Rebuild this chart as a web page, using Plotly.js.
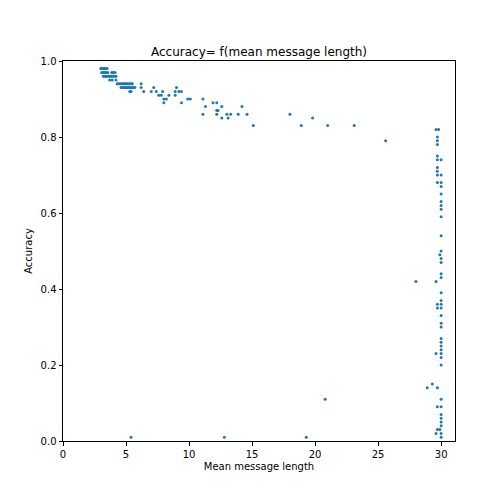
<!DOCTYPE html>
<html>
<head>
<meta charset="utf-8">
<script src="https://cdn.plot.ly/plotly-3.0.1.min.js"></script>
<style>body{margin:0;background:#fff}#chart{width:504px;height:504px}</style>
</head>
<body>
<div id="chart"></div>
<script>
// mean message length / accuracy pairs
const meanLength = [
    3.0, 3.1, 3.2, 3.3, 3.4, 3.5,
    3.07, 3.2, 3.3, 3.4, 3.55, 3.87, 4.0, 4.13,
    3.2, 3.3, 3.4, 3.5, 3.6, 3.7, 3.8, 3.9, 4.0, 4.1, 4.2,
    3.7, 3.9, 4.2,
    4.3, 4.4, 4.5, 4.6, 4.7, 4.8, 4.9, 5.0, 5.1, 5.2, 5.3, 5.4, 5.5, 6.2,
    4.6, 4.7, 4.8, 4.9, 5.0, 5.1, 5.2, 5.3, 5.4, 5.5, 5.6, 5.7, 6.2, 7.2, 9.0,
    5.3, 5.4, 6.4, 7.0, 7.4, 7.9, 8.9, 9.2, 9.4,
    7.6, 7.8, 8.4, 8.9,
    8.0, 8.2, 9.9, 10.1, 11.1,
    8.0, 9.4, 11.9, 12.2,
    11.3, 12.6, 14.2,
    12.2, 12.3,
    11.1, 12.2, 13.0, 13.3, 13.9, 14.6,
    12.6, 13.1,
    15.1,
    18.0, 18.9, 19.8, 21.0, 23.1, 25.6, 28.0, 20.8, 5.4, 12.8, 19.3,
    29.6, 29.8, 29.7, 29.7, 29.7, 29.7, 29.7, 30.0, 29.7, 29.7, 29.7, 30.0,
    29.7, 30.0, 30.0, 30.0, 30.0, 30.0, 30.0, 30.0, 30.0, 30.0, 29.9, 30.0, 30.0,
    30.0, 30.0, 29.6, 30.0, 30.0, 29.7, 30.0, 29.7, 30.0, 30.0, 30.0, 30.0,
    30.0, 30.0, 30.0, 30.0, 29.6, 30.0, 30.0, 30.0, 29.3, 28.9, 29.7, 30.0,
    29.7, 30.0, 30.0, 30.0, 30.0, 30.0, 29.7, 29.9, 29.6, 30.0, 30.0,
];
const accuracy = [
    0.98, 0.98, 0.98, 0.98, 0.98, 0.98,
    0.97, 0.97, 0.97, 0.97, 0.97, 0.97, 0.97, 0.97,
    0.96, 0.96, 0.96, 0.96, 0.96, 0.96, 0.96, 0.96, 0.96, 0.96, 0.96,
    0.95, 0.95, 0.95,
    0.94, 0.94, 0.94, 0.94, 0.94, 0.94, 0.94, 0.94, 0.94, 0.94, 0.94, 0.94, 0.94, 0.94,
    0.93, 0.93, 0.93, 0.93, 0.93, 0.93, 0.93, 0.93, 0.93, 0.93, 0.93, 0.93, 0.93, 0.93, 0.93,
    0.92, 0.92, 0.92, 0.92, 0.92, 0.92, 0.92, 0.92, 0.92,
    0.91, 0.91, 0.91, 0.91,
    0.90, 0.90, 0.90, 0.90, 0.90,
    0.89, 0.89, 0.89, 0.89,
    0.88, 0.88, 0.88,
    0.87, 0.87,
    0.86, 0.86, 0.86, 0.86, 0.86, 0.86,
    0.85, 0.85,
    0.83,
    0.86, 0.83, 0.85, 0.83, 0.83, 0.79, 0.42, 0.11, 0.01, 0.01, 0.01,
    0.82, 0.82, 0.80, 0.79, 0.78, 0.75, 0.74, 0.74, 0.72, 0.71, 0.70, 0.70,
    0.68, 0.68, 0.67, 0.65, 0.63, 0.62, 0.61, 0.59, 0.54, 0.50, 0.49, 0.48, 0.47,
    0.44, 0.43, 0.42, 0.39, 0.37, 0.36, 0.36, 0.35, 0.35, 0.33, 0.31, 0.30,
    0.27, 0.26, 0.25, 0.24, 0.23, 0.23, 0.22, 0.20, 0.15, 0.14, 0.14, 0.11,
    0.09, 0.09, 0.07, 0.06, 0.05, 0.04, 0.03, 0.03, 0.02, 0.02, 0.01,
];
const xTicks = [0, 5, 10, 15, 20, 25, 30];
const yTicks = [0, 0.2, 0.4, 0.6, 0.8, 1.0];

const font = { family: 'DejaVu Sans', color: '#000', size: 10 };
const axisBase = {
    showgrid: false,
    zeroline: false,
    showline: true,
    mirror: true,
    linecolor: '#000',
    linewidth: 1,
    ticks: 'outside',
    ticklen: 3.5,
    tickcolor: '#000',
    tickfont: font,
};

const trace = {
    x: meanLength,
    y: accuracy,
    mode: 'markers',
    type: 'scatter',
    marker: { color: '#1f77b4', size: 3 },
    hoverinfo: 'none',
};

const layout = {
    width: 504,
    height: 504,
    showlegend: false,
    paper_bgcolor: '#fff',
    plot_bgcolor: '#fff',
    margin: { l: 63, r: 49, t: 61, b: 63 },
    title: {
        text: 'Accuracy= f(mean message length)',
        font: { family: 'DejaVu Sans', color: '#000', size: 12 },
        x: 0.5,
        xref: 'paper',
        y: 1,
        yref: 'paper',
        yanchor: 'bottom',
        pad: { b: 5 },
    },
    xaxis: {
        ...axisBase,
        range: [0, 31.1],
        tickvals: xTicks,
        ticktext: xTicks.map(String),
        title: { text: 'Mean message length', font: font, standoff: 4 },
    },
    yaxis: {
        ...axisBase,
        range: [0, 1],
        tickvals: yTicks,
        ticktext: yTicks.map(v => v.toFixed(1)),
        title: { text: 'Accuracy', font: font, standoff: 6 },
    },
};

Plotly.newPlot('chart', [trace], layout, { displayModeBar: false, staticPlot: true });
</script>
</body>
</html>
